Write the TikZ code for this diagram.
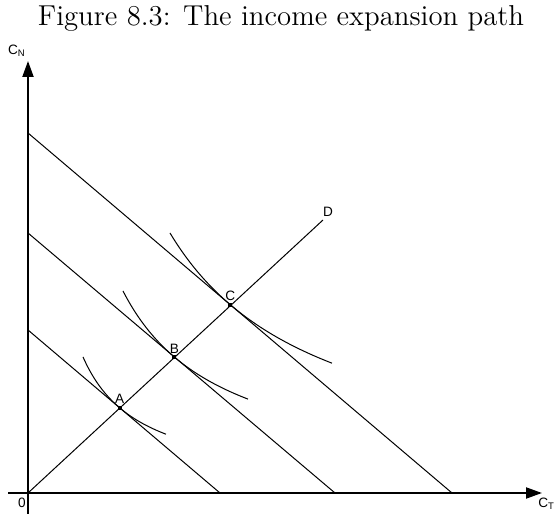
\documentclass[tikz,border=0pt]{standalone}
\usepackage{fontspec}
\newfontfamily\labelfont{Liberation Sans}
\usetikzlibrary{arrows.meta,positioning,calc}

\begin{document}
\begin{tikzpicture}[x=0.5pt,y=0.5pt,
	ax/.style={line width=1pt, -{Triangle[length=8pt,width=5.5pt]}},
	ln/.style={line width=0.5pt},
	pt/.style={fill, inner sep=0pt, minimum size=2pt},
	lbl/.style={font=\labelfont\fontsize{6.8}{8}\selectfont, inner sep=0.5pt}]
	\useasboundingbox (-28,-21) rectangle (530,493);
	\node[font=\Large] (title) at (253,475) {Figure 8.3: The income expansion path};
	\coordinate (O) at (0,0);
	\coordinate (xl) at (-20,0);
	\coordinate (xr) at (514,0);
	\coordinate (yb) at (0,-21);
	\coordinate (yt) at (0,432);
	\draw[ax] (xl) -- (xr);
	\draw[ax] (yb) -- (yt);
	\node[lbl] (zero) at (-6,-10) {0};
	\node[lbl,anchor=west] (CT) at (509,-11) {C\textsubscript{T}};
	\node[lbl] (CN) at (-11,442) {C\textsubscript{N}};
	\foreach \n/\h/\w in {1/163/192,2/260/307,3/360/424}{\coordinate (b\n) at (0,\h);
		\coordinate (e\n) at (\w,0);
		\draw[ln] (b\n) -- (e\n);}
	\coordinate (D) at (295,273);
	\draw[ln] (O) -- (D);
	\node[lbl] (labD) at (300,281) {D};
	\coordinate (A) at (91.6,85.2);
	\coordinate (B) at (146.3,136);
	\coordinate (C) at (202.4,188.2);
	\foreach \a/\b/\u/\s/\e in {-2.8/5.0/94.4/55/138,-4.9/7.5/151.2/95/220,-9.6/8.0/212/142/304}{
		\draw[ln] plot[domain=\s:\e, samples=50, smooth] (\x,{\b+0.85*\u*(\u/(\x-(\a)))});}
	\foreach \p in {A,B,C}{\node[pt] (dot\p) at (\p) {};
		\node[lbl, above=0pt of dot\p] (lab\p) {\p};}
\end{tikzpicture}
\end{document}
